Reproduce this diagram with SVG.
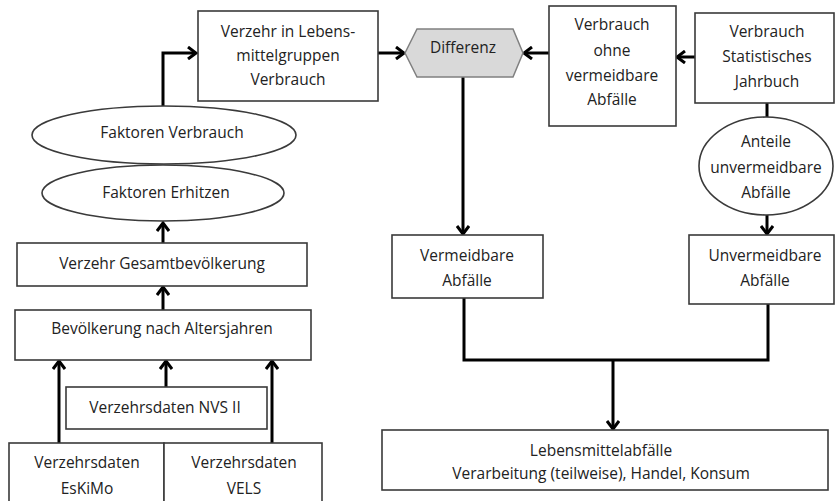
<svg xmlns="http://www.w3.org/2000/svg" width="835" height="501" viewBox="0 0 835 501">
<defs>
<style>
.box{fill:#fff;stroke:#3a3a3a;stroke-width:1.6}
.hex{fill:#d9d9d9;stroke:#808080;stroke-width:1.5}
.t{font-family:"Open Sans","Noto Sans","Liberation Sans",sans-serif;font-size:15.5px;fill:#222;text-anchor:middle}
.c{fill:none;stroke:#000;stroke-width:3}
</style>
<marker id="ah" viewBox="0 0 12 14" refX="10" refY="7" markerWidth="12" markerHeight="14" markerUnits="userSpaceOnUse" orient="auto">
<path d="M2,1 L10,7 L2,13" fill="none" stroke="#000" stroke-width="3"/>
</marker>
</defs>
<rect width="835" height="501" fill="#fff"/>
<g id="connectors">
<path class="c" d="M163,106 V53 H196" marker-end="url(#ah)"/>
<path class="c" d="M378,53 H404" marker-end="url(#ah)"/>
<path class="c" d="M549,53 H524" marker-end="url(#ah)"/>
<path class="c" d="M695,57 H677" marker-end="url(#ah)"/>
<path class="c" d="M767,103 V117"/>
<path class="c" d="M767,215 V234" marker-end="url(#ah)"/>
<path class="c" d="M463,77 V234" marker-end="url(#ah)"/>
<path class="c" d="M464,298 V360 H768 V304"/>
<path class="c" d="M613,360 V429" marker-end="url(#ah)"/>
<path class="c" d="M163,243 V223" marker-end="url(#ah)"/>
<path class="c" d="M163,310 V287" marker-end="url(#ah)"/>
<path class="c" d="M59,443 V361" marker-end="url(#ah)"/>
<path class="c" d="M166,387 V361" marker-end="url(#ah)"/>
<path class="c" d="M272,443 V361" marker-end="url(#ah)"/>
</g>
<g id="verzehr-lebensmittelgruppen">
<rect class="box" x="198" y="11" width="180" height="90"/>
<text class="t" x="288" y="37">Verzehr in Lebens-</text>
<text class="t" x="288" y="61">mittelgruppen</text>
<text class="t" x="288" y="85">Verbrauch</text>
</g>
<g id="differenz">
<polygon class="hex" points="405,53 417,29 513,29 523,53 513,77 417,77"/>
<text class="t" x="463" y="53">Differenz</text>
</g>
<g id="verbrauch-ohne">
<rect class="box" x="549" y="6" width="127" height="120"/>
<text class="t" x="612" y="30">Verbrauch</text>
<text class="t" x="612" y="56">ohne</text>
<text class="t" x="612" y="81">vermeidbare</text>
<text class="t" x="612" y="105">Abfälle</text>
</g>
<g id="verbrauch-statistisches-jahrbuch">
<rect class="box" x="695" y="13" width="139" height="90"/>
<text class="t" x="767" y="37">Verbrauch</text>
<text class="t" x="767" y="62">Statistisches</text>
<text class="t" x="767" y="87">Jahrbuch</text>
</g>
<g id="anteile-unvermeidbare">
<ellipse class="box" cx="766" cy="166" rx="67" ry="49"/>
<text class="t" x="766" y="147">Anteile</text>
<text class="t" x="766" y="173">unvermeidbare</text>
<text class="t" x="766" y="198">Abfälle</text>
</g>
<g id="faktoren-verbrauch">
<ellipse class="box" cx="164" cy="135" rx="132" ry="29"/>
<text class="t" x="172" y="138">Faktoren Verbrauch</text>
</g>
<g id="faktoren-erhitzen">
<ellipse class="box" cx="163" cy="193" rx="121" ry="28"/>
<text class="t" x="166" y="198">Faktoren Erhitzen</text>
</g>
<g id="verzehr-gesamtbevoelkerung">
<rect class="box" x="17" y="243" width="290" height="43"/>
<text class="t" x="162" y="269">Verzehr Gesamtbevölkerung</text>
</g>
<g id="bevoelkerung-altersjahre">
<rect class="box" x="15" y="310" width="296" height="50"/>
<text class="t" x="162" y="334">Bevölkerung nach Altersjahren</text>
</g>
<g id="verzehrsdaten-nvs">
<rect class="box" x="66" y="387" width="201" height="42"/>
<text class="t" x="165" y="413">Verzehrsdaten NVS II</text>
</g>
<g id="verzehrsdaten-eskimo">
<rect class="box" x="9" y="443" width="155" height="70"/>
<text class="t" x="87" y="468">Verzehrsdaten</text>
<text class="t" x="87" y="494">EsKiMo</text>
</g>
<g id="verzehrsdaten-vels">
<rect class="box" x="164" y="443" width="158" height="70"/>
<text class="t" x="244" y="468">Verzehrsdaten</text>
<text class="t" x="244" y="494">VELS</text>
</g>
<g id="vermeidbare-abfaelle">
<rect class="box" x="392" y="235" width="151" height="63"/>
<text class="t" x="467" y="261">Vermeidbare</text>
<text class="t" x="467" y="286">Abfälle</text>
</g>
<g id="unvermeidbare-abfaelle">
<rect class="box" x="689" y="235" width="145" height="69"/>
<text class="t" x="765" y="261">Unvermeidbare</text>
<text class="t" x="765" y="286">Abfälle</text>
</g>
<g id="lebensmittelabfaelle">
<rect class="box" x="382" y="430" width="446" height="60"/>
<text class="t" x="601" y="456">Lebensmittelabfälle</text>
<text class="t" x="601" y="479">Verarbeitung (teilweise), Handel, Konsum</text>
</g>
</svg>
